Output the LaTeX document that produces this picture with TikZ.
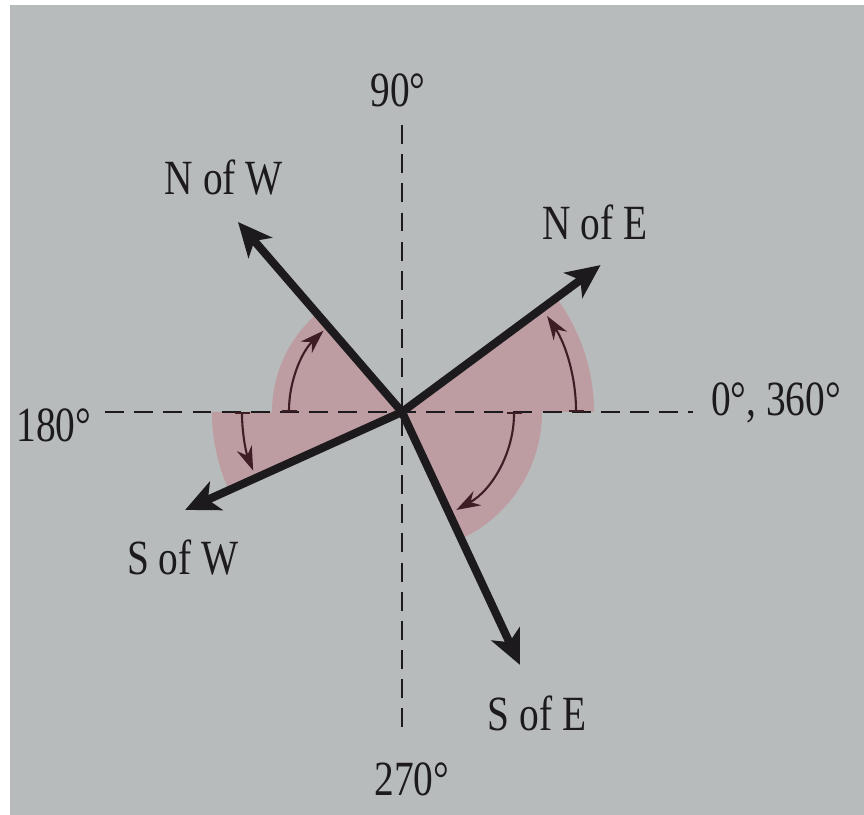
\documentclass[tikz,border=0pt]{standalone}
\usepackage{fontspec}
\setmainfont[FakeStretch=0.8]{Liberation Serif}
\usetikzlibrary{arrows.meta}
\definecolor{paper}{RGB}{184,187,187}
\definecolor{rosy}{RGB}{190,157,162}
\definecolor{ink}{RGB}{28,26,28}
\definecolor{arcink}{RGB}{62,30,36}

\begin{document}
\begin{tikzpicture}[
  lbl/.style={text=ink,font=\fontsize{14}{16}\selectfont,inner sep=0pt},
  axis/.style={ink,line width=0.8pt,dash pattern=on 5.4pt off 2.9pt},
  vec/.style={ink,line width=2.3pt,-{Stealth[length=3.4mm,width=3.1mm,inset=0.9mm]}},
  turn/.style={arcink,line width=0.6pt,{Bar[width=1.5mm]}-{Stealth[length=2.4mm,width=1.6mm]}}
]
\useasboundingbox (-4.02,-4.03) rectangle (4.62,4.12);
\fill[white] (-4.02,-4.03) rectangle (4.62,4.12);
\fill[paper] (-3.92,-4.03) rectangle (4.62,4.07);
\coordinate (O) at (0,0);
\coordinate (E) at (2.91,0); \coordinate (W) at (-2.97,0);
\coordinate (N) at (0,2.87); \coordinate (S) at (0,-3.24);
\coordinate (NE) at (36.5:2.47); \coordinate (NW) at (130.8:2.51);
\coordinate (SW) at (204.3:2.38); \coordinate (SE) at (-65:2.79);
% shaded sectors
\fill[rosy] (O) -- (0:1.92) arc[start angle=0,end angle=36.5,radius=1.92] -- cycle;
\fill[rosy] (O) -- (130.8:1.30) arc[start angle=130.8,end angle=180,radius=1.30] -- cycle;
\fill[rosy] (O) -- (180:1.90) arc[start angle=180,end angle=204.3,radius=1.90] -- cycle;
\fill[rosy] (O) -- (-65:1.40) arc[start angle=-65,end angle=0,radius=1.40] -- cycle;
% axes
\draw[axis] (W) -- (E);
\draw[axis] (N) -- (S);
% angle arcs
\draw[turn] (0:1.74) arc[start angle=0,end angle=33.5,radius=1.74];
\draw[turn] (180:1.13) arc[start angle=180,end angle=134,radius=1.13];
\draw[turn] (180:1.60) arc[start angle=180,end angle=201.5,radius=1.60];
\draw[turn] (0:1.12) arc[start angle=0,end angle=-61,radius=1.12];
% vectors
\draw[vec] (O) -- (NE);
\draw[vec] (O) -- (NW);
\draw[vec] (O) -- (SW);
\draw[vec] (O) -- (SE);
% labels
\node[lbl] (top) at (-0.04,3.22) {90°};
\node[lbl] (bottom) at (0.10,-3.67) {270°};
\node[lbl] (left) at (-3.48,-0.13) {180°};
\node[lbl] (right) at (3.74,0.09) {0°, 360°};
\node[lbl] (lNE) at (1.93,1.90) {N of E};
\node[lbl] (lNW) at (-1.78,2.34) {N of W};
\node[lbl] (lSW) at (-2.19,-1.46) {S of W};
\node[lbl] (lSE) at (1.35,-3.01) {S of E};
\end{tikzpicture}
\end{document}
